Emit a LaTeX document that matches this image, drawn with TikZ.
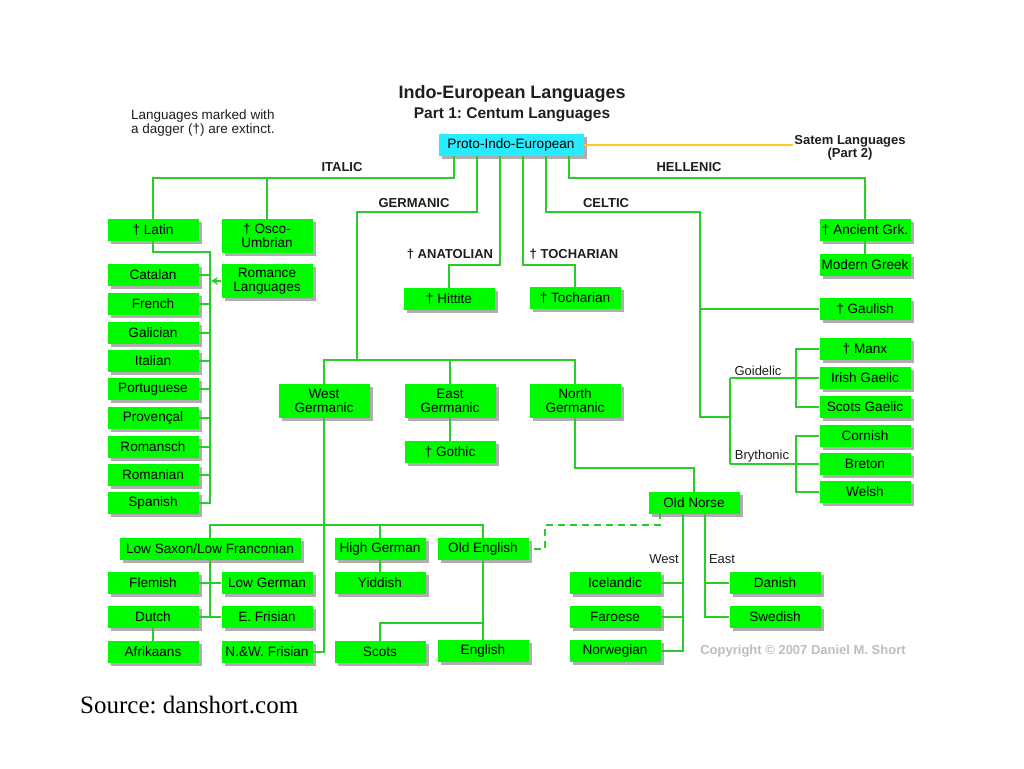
\documentclass[tikz,border=0pt]{standalone}
\usepackage{fontspec}
\setmainfont{Liberation Sans}
\newfontfamily\srcfont{Liberation Serif}
\usetikzlibrary{shadows,arrows.meta}
\frenchspacing
\definecolor{boxg}{RGB}{0,250,0}
\definecolor{lineg}{RGB}{40,205,40}
\definecolor{piec}{RGB}{40,235,255}
\definecolor{satemc}{RGB}{255,200,40}
\definecolor{txtc}{RGB}{30,30,30}
\definecolor{copyc}{RGB}{190,190,190}
\tikzset{
  lang/.style={rectangle, fill=boxg, minimum width=91pt, minimum height=22pt,
    inner sep=1pt, align=center, text=black,
    font=\fontsize{13.6}{13.8}\selectfont,
    drop shadow={shadow xshift=3pt, shadow yshift=-3pt, fill=black!45, opacity=0.7}},
  lang2/.style={lang, minimum height=34pt},
  conn/.style={draw=lineg, line width=2.2pt},
  grp/.style={font=\bfseries\fontsize{13}{15}\selectfont, text=txtc, inner sep=1pt},
  sub/.style={font=\fontsize{13}{15}\selectfont, text=txtc, inner sep=1pt},
}
\begin{document}
\begin{tikzpicture}[x=1pt,y=-1pt]
\useasboundingbox (0,0) rectangle (1024,768);
\fill[white] (0,0) rectangle (1024,768);

% titles and notes
\node[font=\bfseries\fontsize{18}{20}\selectfont, text=txtc] (title) at (512,94) {Indo-European Languages};
\node[font=\bfseries\fontsize{15.5}{17}\selectfont, text=txtc] (subtitle) at (512,115) {Part 1: Centum Languages};
\node[anchor=west, align=left, font=\fontsize{13.5}{14}\selectfont, text=txtc, inner sep=0pt] (note) at (131,123) {Languages marked with\\a dagger (†) are extinct.};
\node[align=center, font=\bfseries\fontsize{13}{13}\selectfont, text=txtc, inner sep=1pt] (satem) at (850,148) {Satem Languages\\(Part 2)};
\node[font=\bfseries\fontsize{13}{15}\selectfont, text=copyc] (copy) at (803,651) {Copyright © 2007 Daniel M. Short};
\node[anchor=base west, font=\srcfont\fontsize{25}{27}\selectfont, text=black, inner sep=0pt] (src) at (80,713) {Source: danshort.com};

% root
\node[lang, fill=piec, minimum width=145pt] (pie) at (511,145) {Proto-Indo-European};
\draw[draw=satemc, line width=2pt] (pie.east) -- (satem.west |- pie.east);

% group labels
\node[grp] (lital) at (342,167) {ITALIC};
\node[grp] (lgerm) at (414,203) {GERMANIC};
\node[grp] (lanat) at (450,254) {† ANATOLIAN};
\node[grp] (ltoch) at (574,254) {† TOCHARIAN};
\node[grp] (lcelt) at (606,203) {CELTIC};
\node[grp] (lhell) at (689,167) {HELLENIC};
\node[sub] (lgoi) at (758,371) {Goidelic};
\node[sub] (lbry) at (762,456) {Brythonic};
\node[sub] (lwest) at (664,559) {West};
\node[sub] (least) at (722,559) {East};

% Italic
\node[lang] (latin) at (153,230) {† Latin};
\node[lang2] (osco) at (267,236) {† Osco-\\Umbrian};
\node[lang2] (romance) at (267,281) {Romance\\Languages};
\node[lang] (catalan) at (153,275) {Catalan};
\node[lang] (french) at (153,304) {French};
\node[lang] (galician) at (153,333) {Galician};
\node[lang] (italian) at (153,361) {Italian};
\node[lang] (portug) at (153,389) {Portuguese};
\node[lang] (provencal) at (153,418) {Provençal};
\node[lang] (romansch) at (153,447) {Romansch};
\node[lang] (romanian) at (153,475) {Romanian};
\node[lang] (spanish) at (153,503) {Spanish};

% Anatolian, Tocharian
\node[lang] (hittite) at (449,299) {† Hittite};
\node[lang] (tochar) at (575,298) {† Tocharian};

% Hellenic, Celtic
\node[lang] (ancgrk) at (865,230) {† Ancient Grk.};
\node[lang] (modgrk) at (865,265) {Modern Greek};
\node[lang] (gaulish) at (865,309) {† Gaulish};
\node[lang] (manx) at (865,349) {† Manx};
\node[lang] (irish) at (865,378) {Irish Gaelic};
\node[lang] (scotsg) at (865,407) {Scots Gaelic};
\node[lang] (cornish) at (865,436) {Cornish};
\node[lang] (breton) at (865,464) {Breton};
\node[lang] (welsh) at (865,492) {Welsh};

% Germanic
\node[lang2] (wgerm) at (324,401) {West\\Germanic};
\node[lang2] (egerm) at (450,401) {East\\Germanic};
\node[lang2] (ngerm) at (575,401) {North\\Germanic};
\node[lang] (gothic) at (450,452) {† Gothic};
\node[lang] (oldnorse) at (694,503) {Old Norse};
\node[lang, minimum width=181pt] (lowsax) at (210,549) {Low Saxon/Low Franconian};
\node[lang] (highger) at (380,549) {High German};
\node[lang] (oldeng) at (483,549) {Old English};
\node[lang] (flemish) at (153,583) {Flemish};
\node[lang] (lowger) at (267,583) {Low German};
\node[lang] (dutch) at (153,617) {Dutch};
\node[lang] (efris) at (267,617) {E. Frisian};
\node[lang] (afrik) at (153,652) {Afrikaans};
\node[lang] (nwfris) at (267,652) {N.\&W. Frisian};
\node[lang] (yiddish) at (380,583) {Yiddish};
\node[lang] (scots) at (380,652) {Scots};
\node[lang] (english) at (483,651) {English};
\node[lang] (iceland) at (615,583) {Icelandic};
\node[lang] (faroese) at (615,617) {Faroese};
\node[lang] (norweg) at (615,651) {Norwegian};
\node[lang] (danish) at (775,583) {Danish};
\node[lang] (swedish) at (775,617) {Swedish};

% exits from root
\coordinate (e1) at (454,156);
\coordinate (e2) at (477,156);
\coordinate (e3) at (500,156);
\coordinate (e4) at (523,156);
\coordinate (e5) at (546,156);
\coordinate (e6) at (569,156);

% Italic branch
\draw[conn] (e1) -- ++(0,22) -| (latin.north);
\draw[conn] (osco.north) -- ++(0,-41);
\coordinate (romx) at (210,252);
\draw[conn] (latin.south) |- (romx) |- (spanish.east);
\foreach \n in {catalan,french,galician,italian,portug,provencal,romansch,romanian}
  \draw[conn] (\n.east) -- (\n.east -| romx);
\draw[conn, -{Stealth[length=7pt,width=8pt]}] (romance.west) -- ([xshift=1pt]romance.west -| romx);

% Germanic branch
\coordinate (gerj) at (357,360);
\draw[conn] (e2) -- ++(0,56) -| (gerj);
\draw[conn] (wgerm.north) -- ++(0,-24) -| (ngerm.north);
\draw[conn] (egerm.north) -- ++(0,-24);
\draw[conn] (egerm.south) -- (gothic.north);

% Anatolian, Tocharian
\draw[conn] (e3) -- ++(0,109) -| (hittite.north);
\draw[conn] (e4) -- ++(0,109) -| (tochar.north);

% Celtic
\coordinate (celtc) at (700,417);
\coordinate (gbj) at (730,417);
\draw[conn] (e5) -- ++(0,56) -| (celtc) -- (gbj);
\draw[conn] (gaulish.west) -- (gaulish.west -| celtc);
\coordinate (goi) at (730,378);
\coordinate (bry) at (730,464);
\draw[conn] (goi) -- (bry);
\draw[conn] (goi) -- (irish.west);
\draw[conn] (bry) -- (breton.west);
\coordinate (gvx) at (796,378);
\coordinate (bvx) at (796,464);
\draw[conn] (manx.west) -| (gvx) |- (scotsg.west);
\draw[conn] (cornish.west) -| (bvx) |- (welsh.west);

% Hellenic
\draw[conn] (e6) -- ++(0,22) -| (ancgrk.north);
\draw[conn] (ancgrk.south) -- (modgrk.north);

% West Germanic
\draw[conn] (wgerm.south) |- (nwfris.east);
\draw[conn] (lowsax.north) -- ++(0,-13) -| (oldeng.north);
\draw[conn] (highger.north) -- ++(0,-13);
\draw[conn] (lowsax.south) -- (lowsax.south |- dutch.east);
\draw[conn] (flemish.east) -- (lowger.west);
\draw[conn] (dutch.east) -- (efris.west);
\draw[conn] (dutch.south) -- (afrik.north);
\draw[conn] (highger.south) -- (yiddish.north);
\draw[conn] (oldeng.south) -- (english.north);
\draw[conn] (scots.north) -- ++(0,-18) -| (english.north);

% Old English -- Old Norse (dashed)
\coordinate (dj) at (545,525);
\draw[conn, dash pattern=on 7pt off 5pt] ([xshift=5pt]oldeng.east) -| (dj) -| ([xshift=-34pt]oldnorse.south);

% North Germanic
\draw[conn] (ngerm.south) -- ++(0,50) -| (oldnorse.north);
\coordinate (onw) at ([xshift=-11pt]oldnorse.south);
\coordinate (one) at ([xshift=11pt]oldnorse.south);
\draw[conn] (onw) |- (norweg.east);
\draw[conn] (iceland.east) -- (iceland.east -| onw);
\draw[conn] (faroese.east) -- (faroese.east -| onw);
\draw[conn] (one) |- (swedish.west);
\draw[conn] (danish.west) -- (danish.west -| one);
\end{tikzpicture}
\end{document}
